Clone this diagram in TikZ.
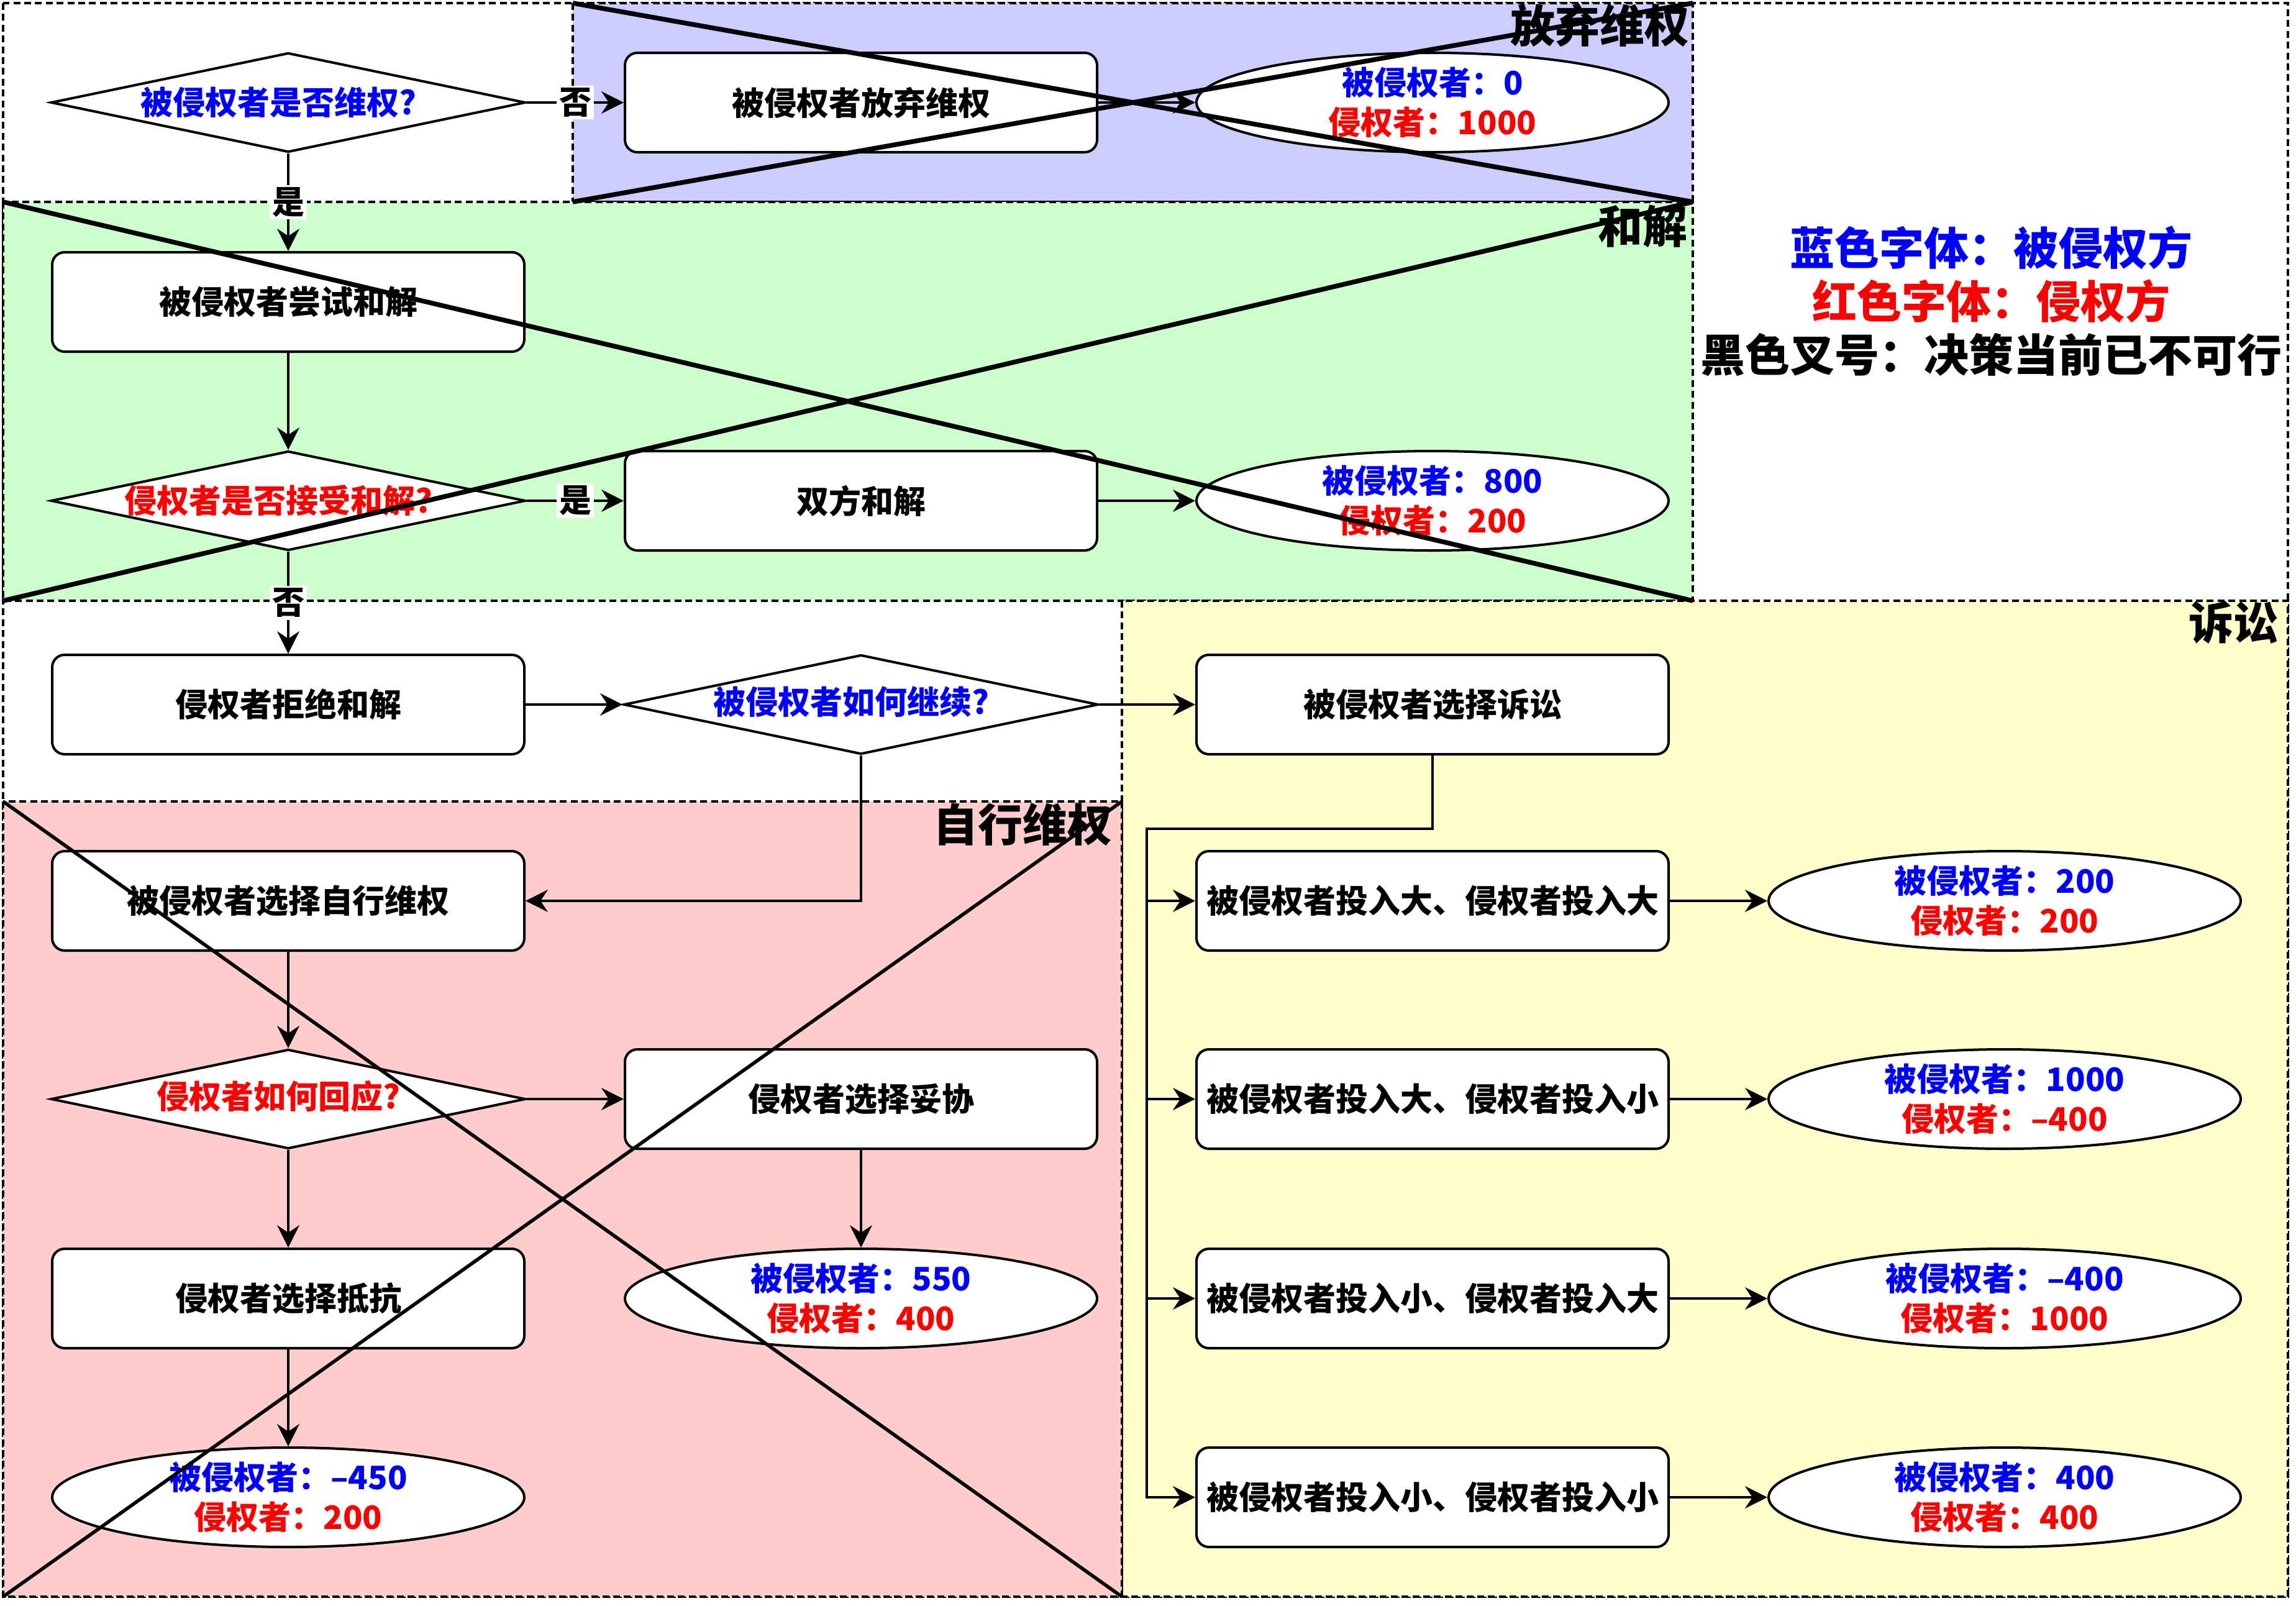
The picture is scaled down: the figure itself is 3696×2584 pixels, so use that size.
\documentclass[tikz,border=0pt]{standalone}
\usepackage{fontspec}
\setmainfont{Noto Sans CJK SC}
\usetikzlibrary{shapes.geometric,arrows.meta}
\definecolor{rpurple}{HTML}{CCCCFF}
\definecolor{rgreen}{HTML}{CCFFCC}
\definecolor{rpink}{HTML}{FFCCCC}
\definecolor{ryellow}{HTML}{FFFFCC}
\definecolor{tblue}{HTML}{0000FF}
\definecolor{tred}{HTML}{FF0000}
\begin{document}
\begin{tikzpicture}[x=0.25pt,y=-0.25pt,
  region/.style={draw=black,line width=0.85pt,dash pattern=on 2.75pt off 1.6pt},
  crossline/.style={line width=1.9pt},
  thincross/.style={line width=1.4pt},
  stepbox/.style={draw,rounded corners=5pt,line width=1pt,fill=white,minimum width=190pt,minimum height=40pt,inner sep=0pt,font=\fontsize{13}{16}\selectfont\bfseries},
  decide/.style={draw,diamond,line width=1pt,fill=white,minimum width=191pt,minimum height=40pt,inner sep=0pt},
  outcome/.style={draw,ellipse,line width=1pt,fill=white,minimum width=190pt,minimum height=40pt,inner sep=0pt},
  txt/.style={inner sep=0pt,font=\fontsize{13}{16}\selectfont\bfseries,align=center},
  arr/.style={-{Stealth[length=9pt,width=9pt,inset=3pt]},line width=0.85pt},
  lab/.style={fill=white,inner sep=1pt,font=\fontsize{13}{16}\selectfont\bfseries},
  regionlabel/.style={anchor=east,inner sep=0pt,font=\fontsize{18}{22}\selectfont\bfseries},
]
\useasboundingbox (0,0) rectangle (3696,2584);
% regions
\draw[region,fill=white] (5,5) rectangle (3683,2570);
\draw[region,fill=rpurple] (922,5) rectangle (2725,325);
\draw[region,fill=rgreen] (5,325) rectangle (2725,967);
\draw[region,fill=ryellow] (1806,967) rectangle (3683,2570);
\draw[region,fill=rpink] (5,1290) rectangle (1806,2570);

% nodes
\node[decide] (d1) at (464,165) {};
\node[txt,text=tblue] (d1t) at ([xshift=-4pt]d1.center) {被侵权者是否维权?};
\node[stepbox] (b1) at (1386,165) {被侵权者放弃维权};
\node[outcome] (e1) at (2306,165) {};
\node[txt] (e1t) at (e1) {\textcolor{tblue}{被侵权者：0}\\\textcolor{tred}{侵权者：1000}};

\node[stepbox] (b2) at (464,486) {被侵权者尝试和解};
\node[decide] (d2) at (464,806) {};
\node[txt,text=tred] (d2t) at ([xshift=-4pt]d2.center) {侵权者是否接受和解?};
\node[stepbox] (b3) at (1386,806) {双方和解};
\node[outcome] (e2) at (2306,806) {};
\node[txt] (e2t) at (e2) {\textcolor{tblue}{被侵权者：800}\\\textcolor{tred}{侵权者：200}};

\node[stepbox] (b4) at (464,1134) {侵权者拒绝和解};
\node[decide] (d3) at (1386,1134) {};
\node[txt,text=tblue] (d3t) at ([xshift=-4pt,yshift=1pt]d3.center) {被侵权者如何继续?};
\node[stepbox] (b5) at (2306,1134) {被侵权者选择诉讼};

\node[stepbox] (b6) at (464,1450) {被侵权者选择自行维权};
\node[decide] (d4) at (464,1769) {};
\node[txt,text=tred] (d4t) at ([xshift=-4pt,yshift=1pt]d4.center) {侵权者如何回应?};
\node[stepbox] (b7) at (1386,1769) {侵权者选择妥协};
\node[stepbox] (b8) at (464,2090) {侵权者选择抵抗};
\node[outcome] (e3) at (1386,2090) {};
\node[txt] (e3t) at (e3) {\textcolor{tblue}{被侵权者：550}\\\textcolor{tred}{侵权者：400}};
\node[outcome] (e4) at (464,2410) {};
\node[txt] (e4t) at (e4) {\textcolor{tblue}{被侵权者：–450}\\\textcolor{tred}{侵权者：200}};

\node[stepbox] (l1) at (2306,1450) {被侵权者投入大、侵权者投入大};
\node[stepbox] (l2) at (2306,1769) {被侵权者投入大、侵权者投入小};
\node[stepbox] (l3) at (2306,2090) {被侵权者投入小、侵权者投入大};
\node[stepbox] (l4) at (2306,2410) {被侵权者投入小、侵权者投入小};
\node[outcome] (f1) at (3227,1450) {};
\node[txt] (f1t) at (f1) {\textcolor{tblue}{被侵权者：200}\\\textcolor{tred}{侵权者：200}};
\node[outcome] (f2) at (3227,1769) {};
\node[txt] (f2t) at (f2) {\textcolor{tblue}{被侵权者：1000}\\\textcolor{tred}{侵权者：–400}};
\node[outcome] (f3) at (3227,2090) {};
\node[txt] (f3t) at (f3) {\textcolor{tblue}{被侵权者：–400}\\\textcolor{tred}{侵权者：1000}};
\node[outcome] (f4) at (3227,2410) {};
\node[txt] (f4t) at (f4) {\textcolor{tblue}{被侵权者：400}\\\textcolor{tred}{侵权者：400}};

% connectors
\draw[arr] (d1.east) -- node[lab] (n1) {否} (b1.west);
\draw[arr] (b1.east) -- (e1.west);
\draw[arr] (d1.south) -- node[lab] (n2) {是} (b2.north);
\draw[arr] (b2.south) -- (d2.north);
\draw[arr] (d2.east) -- node[lab] (n3) {是} (b3.west);
\draw[arr] (b3.east) -- (e2.west);
\draw[arr] (d2.south) -- node[lab] (n4) {否} (b4.north);
\draw[arr] (b4.east) -- (d3.west);
\draw[arr] (d3.east) -- (b5.west);
\draw[arr] (d3.south) |- (b6.east);
\draw[arr] (b6.south) -- (d4.north);
\draw[arr] (d4.east) -- (b7.west);
\draw[arr] (d4.south) -- (b8.north);
\draw[arr] (b7.south) -- (e3.north);
\draw[arr] (b8.south) -- (e4.north);
\coordinate (j1) at (2306,1334);
\coordinate (j2) at (1846,1334);
\foreach \t in {l1,l2,l3,l4}{
  \draw[arr] (b5.south) -- (j1) -- (j2) |- (\t.west);
}
\draw[arr] (l1.east) -- (f1.west);
\draw[arr] (l2.east) -- (f2.west);
\draw[arr] (l3.east) -- (f3.west);
\draw[arr] (l4.east) -- (f4.west);

% crosses
\draw[crossline] (922,5) -- (2725,325) (922,325) -- (2725,5);
\draw[crossline] (5,325) -- (2725,967) (5,967) -- (2725,325);
\draw[thincross] (5,1290) -- (1806,2570) (5,2570) -- (1806,1290);

% region labels
\node[regionlabel] (r1) at (2720,41) {放弃维权};
\node[regionlabel] (r2) at (2717,364) {和解};
\node[regionlabel] (r3) at (3668,1002) {诉讼};
\node[regionlabel] (r4) at (1791,1327) {自行维权};

% legend
\node[inner sep=0pt,align=center,font=\fontsize{18}{21.5}\selectfont\bfseries] (legend) at (3205,485)
  {\textcolor{tblue}{蓝色字体：被侵权方}\\\textcolor{tred}{红色字体：侵权方}\\黑色叉号：决策当前已不可行};
\end{tikzpicture}
\end{document}
